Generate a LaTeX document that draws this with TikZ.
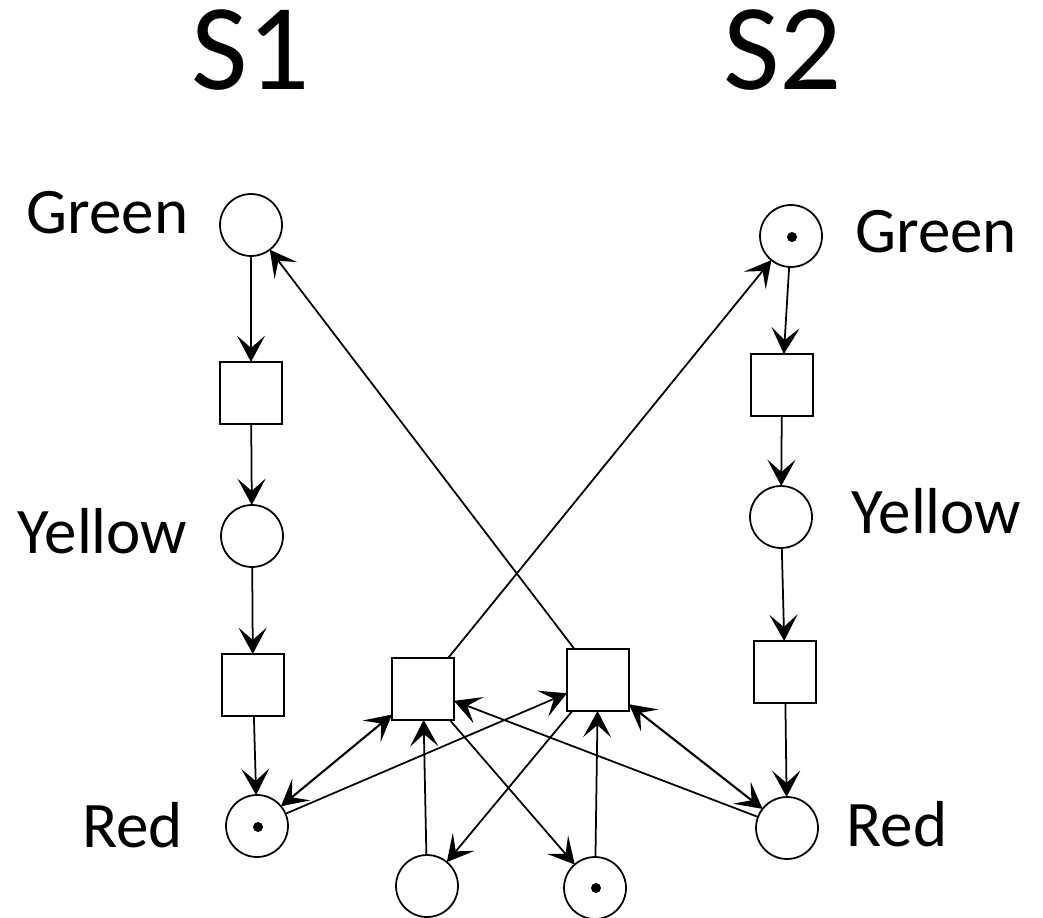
\documentclass[tikz,border=0pt]{standalone}
\usepackage{fontspec}
\setmainfont{Carlito}
\usetikzlibrary{arrows.meta}
\begin{document}
\begin{tikzpicture}[x=0.02cm,y=-0.02cm,
  place/.style={circle,draw,line width=1pt,minimum size=1.24cm,inner sep=0pt,outer sep=0pt},
  trans/.style={rectangle,draw,line width=1pt,minimum size=1.24cm,inner sep=0pt,outer sep=0pt},
  token/.style={circle,fill=black,minimum size=0.2cm,inner sep=0pt},
  tip/.tip={Stealth[length=15pt,width=16pt,inset=7pt]},
  arc/.style={line width=1pt,-tip},
  darc/.style={line width=1.2pt,tip-tip},
  lbl/.style={anchor=base,inner sep=0pt,font=\fontsize{37}{37}\selectfont},
  title/.style={anchor=base,inner sep=0pt,font=\fontsize{70}{70}\selectfont}]
\useasboundingbox (0,0) rectangle (1043,918);

% titles
\node[title] (s1) at (250.5,90) {\smash{S1}};
\node[title] (s2) at (782.5,90) {\smash{S2}};

% signal S1
\node[place] (g1) at (251,225) {};
\node[trans] (t1) at (251,393) {};
\node[place] (y1) at (252,536) {};
\node[trans] (t2) at (253,685) {};
\node[place] (r1) at (257,826) {};
\node[token] (r1tok) at (258,827) {};

% signal S2
\node[place] (g2) at (791,236) {};
\node[token] (g2tok) at (792,237) {};
\node[trans] (t5) at (782,385) {};
\node[place] (y2) at (781,517) {};
\node[trans] (t6) at (785,672) {};
\node[place] (r2) at (787,828) {};

% switching transitions and control places
\node[trans] (t3) at (423,689) {};
\node[trans] (t4) at (598,680) {};
\node[place] (p5) at (427,886) {};
\node[place] (p6) at (595,888) {};
\node[token] (p6tok) at (596,888) {};

% labels
\node[lbl] (lg1) at (107.5,234) {Green};
\node[lbl] (ly1) at (102.5,553) {Yellow};
\node[lbl] (lr1) at (132.5,847) {Red};
\node[lbl] (lg2) at (936,253) {Green};
\node[lbl] (ly2) at (936.5,533) {Yellow};
\node[lbl] (lr2) at (897,846) {Red};

% cycle of S1
\draw[arc] (g1) -- (t1);
\draw[arc] (t1) -- (y1);
\draw[arc] (y1) -- (t2);
\draw[arc] (t2) -- (r1);

% cycle of S2
\draw[arc] (g2) -- (t5);
\draw[arc] (t5) -- (y2);
\draw[arc] (y2) -- (t6);
\draw[arc] (t6) -- (r2);

% coupling arcs
\draw[arc] (t4) -- (g1);
\draw[arc] (t3) -- (g2);
\draw[darc] (r1) -- (t3);
\draw[arc] (r1) -- (t4);
\draw[darc] (t4) -- (r2);
\draw[arc] (r2) -- (t3);
\draw[arc] (p5) -- (t3);
\draw[arc] (p6) -- (t4);
\draw[arc] (t3) -- (p6);
\draw[arc] (t4) -- (p5);
\end{tikzpicture}
\end{document}
